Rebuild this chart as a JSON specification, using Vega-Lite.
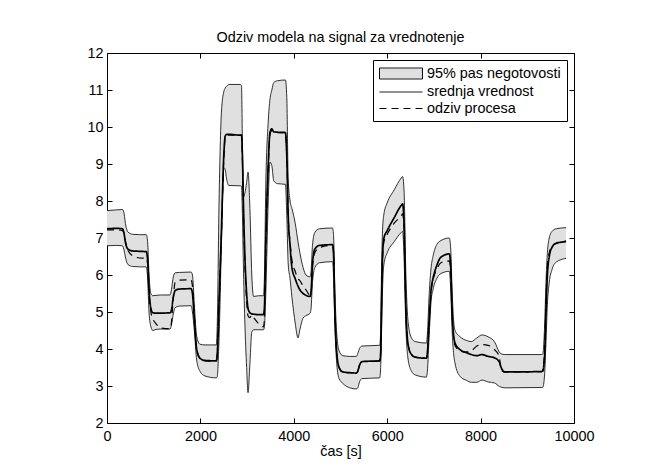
{
  "$schema": "https://vega.github.io/schema/vega-lite/v6.json",
  "width": 467,
  "height": 370,
  "autosize": {"type": "none"},
  "padding": {"left": 107, "top": 53, "right": 80, "bottom": 52},
  "background": "white",
  "config": {
    "font": "Liberation Sans",
    "view": {"stroke": null},
    "axis": {"grid": false, "domainColor": "black", "tickColor": "black", "labelColor": "black", "titleColor": "black", "labelFont": "Liberation Sans", "titleFont": "Liberation Sans", "labelFontSize": 14.4, "titleFontSize": 14.4, "titleFontWeight": "normal", "domainWidth": 1, "tickWidth": 1}
  },
  "title": {"text": "Odziv modela na signal za vrednotenje", "font": "Liberation Sans", "fontSize": 14.4, "fontWeight": "normal", "color": "black", "offset": 0},
  "data": {"values": [
    {"t": 0, "lo": 6.79, "hi": 7.74, "m": 7.25, "p": 7.22},
    {"t": 200, "lo": 6.80, "hi": 7.76, "m": 7.26, "p": 7.22},
    {"t": 330, "lo": 6.79, "hi": 7.77, "m": 7.25, "p": 7.20},
    {"t": 360, "lo": 6.70, "hi": 7.70, "m": 7.15, "p": 7.15},
    {"t": 400, "lo": 6.45, "hi": 7.35, "m": 6.85, "p": 6.88},
    {"t": 450, "lo": 6.28, "hi": 7.16, "m": 6.70, "p": 6.66},
    {"t": 550, "lo": 6.23, "hi": 7.10, "m": 6.65, "p": 6.52},
    {"t": 700, "lo": 6.22, "hi": 7.09, "m": 6.64, "p": 6.46},
    {"t": 840, "lo": 6.22, "hi": 7.09, "m": 6.63, "p": 6.45},
    {"t": 870, "lo": 5.90, "hi": 6.90, "m": 6.40, "p": 6.30},
    {"t": 900, "lo": 5.00, "hi": 6.00, "m": 5.60, "p": 5.50},
    {"t": 940, "lo": 4.60, "hi": 5.50, "m": 5.10, "p": 5.00},
    {"t": 980, "lo": 4.50, "hi": 5.44, "m": 4.98, "p": 4.82},
    {"t": 1050, "lo": 4.53, "hi": 5.45, "m": 4.97, "p": 4.68},
    {"t": 1150, "lo": 4.54, "hi": 5.46, "m": 4.97, "p": 4.57},
    {"t": 1350, "lo": 4.54, "hi": 5.46, "m": 4.98, "p": 4.55},
    {"t": 1380, "lo": 4.65, "hi": 5.60, "m": 5.05, "p": 4.72},
    {"t": 1420, "lo": 4.95, "hi": 5.95, "m": 5.40, "p": 5.40},
    {"t": 1460, "lo": 5.12, "hi": 6.06, "m": 5.58, "p": 5.80},
    {"t": 1550, "lo": 5.16, "hi": 6.07, "m": 5.62, "p": 5.86},
    {"t": 1800, "lo": 5.17, "hi": 6.08, "m": 5.63, "p": 5.87},
    {"t": 1830, "lo": 5.00, "hi": 6.00, "m": 5.50, "p": 5.70},
    {"t": 1870, "lo": 4.50, "hi": 5.20, "m": 4.80, "p": 4.90},
    {"t": 1920, "lo": 3.70, "hi": 4.35, "m": 4.00, "p": 4.00},
    {"t": 1990, "lo": 3.40, "hi": 4.13, "m": 3.75, "p": 3.75},
    {"t": 2100, "lo": 3.27, "hi": 4.11, "m": 3.69, "p": 3.68},
    {"t": 2340, "lo": 3.22, "hi": 4.11, "m": 3.68, "p": 3.67},
    {"t": 2360, "lo": 3.25, "hi": 4.60, "m": 3.85, "p": 3.85},
    {"t": 2400, "lo": 4.30, "hi": 8.00, "m": 5.30, "p": 5.25},
    {"t": 2450, "lo": 6.80, "hi": 10.40, "m": 7.20, "p": 7.10},
    {"t": 2500, "lo": 8.90, "hi": 10.95, "m": 9.20, "p": 9.10},
    {"t": 2530, "lo": 8.85, "hi": 11.05, "m": 9.75, "p": 9.70},
    {"t": 2560, "lo": 8.60, "hi": 11.10, "m": 9.80, "p": 9.78},
    {"t": 2610, "lo": 8.42, "hi": 11.15, "m": 9.80, "p": 9.78},
    {"t": 2850, "lo": 8.41, "hi": 11.15, "m": 9.78, "p": 9.78},
    {"t": 2880, "lo": 8.40, "hi": 11.12, "m": 9.78, "p": 9.78},
    {"t": 2900, "lo": 7.60, "hi": 9.50, "m": 9.20, "p": 9.10},
    {"t": 2920, "lo": 6.30, "hi": 8.10, "m": 8.00, "p": 7.80},
    {"t": 2950, "lo": 4.80, "hi": 8.20, "m": 6.60, "p": 6.40},
    {"t": 2990, "lo": 3.50, "hi": 8.50, "m": 5.50, "p": 5.30},
    {"t": 3020, "lo": 2.82, "hi": 8.78, "m": 5.10, "p": 4.90},
    {"t": 3060, "lo": 3.60, "hi": 7.80, "m": 4.98, "p": 4.85},
    {"t": 3100, "lo": 4.45, "hi": 6.00, "m": 4.95, "p": 4.92},
    {"t": 3140, "lo": 4.52, "hi": 5.42, "m": 4.94, "p": 4.85},
    {"t": 3250, "lo": 4.52, "hi": 5.44, "m": 4.93, "p": 4.68},
    {"t": 3350, "lo": 4.52, "hi": 5.44, "m": 4.93, "p": 4.60},
    {"t": 3370, "lo": 4.60, "hi": 5.90, "m": 5.10, "p": 4.80},
    {"t": 3400, "lo": 5.50, "hi": 8.40, "m": 6.90, "p": 6.60},
    {"t": 3450, "lo": 7.90, "hi": 10.10, "m": 8.90, "p": 8.80},
    {"t": 3490, "lo": 9.05, "hi": 10.75, "m": 9.85, "p": 9.80},
    {"t": 3530, "lo": 8.95, "hi": 11.00, "m": 9.95, "p": 9.90},
    {"t": 3570, "lo": 8.55, "hi": 11.20, "m": 9.87, "p": 9.90},
    {"t": 3650, "lo": 8.47, "hi": 11.25, "m": 9.86, "p": 9.85},
    {"t": 3820, "lo": 8.45, "hi": 11.27, "m": 9.85, "p": 9.85},
    {"t": 3850, "lo": 7.60, "hi": 10.80, "m": 9.20, "p": 9.20},
    {"t": 3880, "lo": 6.30, "hi": 8.60, "m": 7.60, "p": 7.60},
    {"t": 3920, "lo": 5.90, "hi": 8.00, "m": 6.80, "p": 6.90},
    {"t": 3960, "lo": 5.40, "hi": 7.80, "m": 6.20, "p": 6.40},
    {"t": 4030, "lo": 4.70, "hi": 7.40, "m": 5.90, "p": 6.10},
    {"t": 4090, "lo": 4.30, "hi": 6.90, "m": 5.70, "p": 5.90},
    {"t": 4130, "lo": 4.52, "hi": 6.60, "m": 5.60, "p": 5.85},
    {"t": 4200, "lo": 4.84, "hi": 6.20, "m": 5.50, "p": 5.70},
    {"t": 4260, "lo": 4.90, "hi": 6.00, "m": 5.45, "p": 5.60},
    {"t": 4350, "lo": 4.97, "hi": 5.95, "m": 5.42, "p": 5.45},
    {"t": 4370, "lo": 5.10, "hi": 6.10, "m": 5.55, "p": 5.50},
    {"t": 4400, "lo": 5.80, "hi": 6.80, "m": 6.30, "p": 6.20},
    {"t": 4450, "lo": 6.20, "hi": 7.15, "m": 6.70, "p": 6.60},
    {"t": 4550, "lo": 6.33, "hi": 7.25, "m": 6.80, "p": 6.74},
    {"t": 4830, "lo": 6.36, "hi": 7.27, "m": 6.82, "p": 6.80},
    {"t": 4850, "lo": 6.00, "hi": 7.10, "m": 6.60, "p": 6.60},
    {"t": 4880, "lo": 4.60, "hi": 5.60, "m": 5.00, "p": 5.00},
    {"t": 4920, "lo": 3.60, "hi": 4.40, "m": 3.90, "p": 3.90},
    {"t": 4970, "lo": 3.20, "hi": 3.95, "m": 3.50, "p": 3.50},
    {"t": 5050, "lo": 3.07, "hi": 3.82, "m": 3.38, "p": 3.37},
    {"t": 5200, "lo": 2.95, "hi": 3.80, "m": 3.36, "p": 3.36},
    {"t": 5340, "lo": 2.92, "hi": 3.80, "m": 3.35, "p": 3.35},
    {"t": 5370, "lo": 2.95, "hi": 3.88, "m": 3.40, "p": 3.40},
    {"t": 5410, "lo": 3.12, "hi": 4.02, "m": 3.57, "p": 3.57},
    {"t": 5460, "lo": 3.20, "hi": 4.08, "m": 3.66, "p": 3.66},
    {"t": 5840, "lo": 3.22, "hi": 4.10, "m": 3.68, "p": 3.68},
    {"t": 5860, "lo": 3.50, "hi": 4.50, "m": 3.90, "p": 3.90},
    {"t": 5880, "lo": 4.50, "hi": 6.20, "m": 5.30, "p": 5.30},
    {"t": 5900, "lo": 5.60, "hi": 7.20, "m": 6.50, "p": 6.40},
    {"t": 5930, "lo": 6.30, "hi": 7.65, "m": 7.00, "p": 6.90},
    {"t": 6000, "lo": 6.60, "hi": 7.95, "m": 7.20, "p": 7.10},
    {"t": 6150, "lo": 6.90, "hi": 8.30, "m": 7.55, "p": 7.40},
    {"t": 6300, "lo": 7.15, "hi": 8.62, "m": 7.88, "p": 7.60},
    {"t": 6330, "lo": 7.18, "hi": 8.66, "m": 7.92, "p": 7.65},
    {"t": 6360, "lo": 6.50, "hi": 8.30, "m": 7.40, "p": 7.30},
    {"t": 6400, "lo": 4.60, "hi": 6.00, "m": 5.10, "p": 5.10},
    {"t": 6450, "lo": 3.70, "hi": 4.70, "m": 4.10, "p": 4.10},
    {"t": 6520, "lo": 3.40, "hi": 4.30, "m": 3.85, "p": 3.85},
    {"t": 6600, "lo": 3.30, "hi": 4.20, "m": 3.78, "p": 3.78},
    {"t": 6840, "lo": 3.24, "hi": 4.16, "m": 3.75, "p": 3.75},
    {"t": 6860, "lo": 3.40, "hi": 4.40, "m": 3.90, "p": 3.90},
    {"t": 6900, "lo": 4.40, "hi": 5.50, "m": 4.80, "p": 4.80},
    {"t": 6940, "lo": 5.30, "hi": 6.20, "m": 5.60, "p": 5.55},
    {"t": 6980, "lo": 5.60, "hi": 6.50, "m": 5.90, "p": 5.85},
    {"t": 7060, "lo": 5.90, "hi": 6.82, "m": 6.25, "p": 6.15},
    {"t": 7150, "lo": 6.04, "hi": 6.93, "m": 6.48, "p": 6.33},
    {"t": 7330, "lo": 6.10, "hi": 7.00, "m": 6.57, "p": 6.38},
    {"t": 7360, "lo": 5.60, "hi": 6.70, "m": 6.20, "p": 6.10},
    {"t": 7390, "lo": 4.50, "hi": 5.60, "m": 5.00, "p": 5.00},
    {"t": 7420, "lo": 3.90, "hi": 4.80, "m": 4.40, "p": 4.35},
    {"t": 7450, "lo": 3.63, "hi": 4.51, "m": 4.17, "p": 4.10},
    {"t": 7560, "lo": 3.26, "hi": 4.33, "m": 3.98, "p": 3.95},
    {"t": 7700, "lo": 3.15, "hi": 4.23, "m": 3.90, "p": 3.92},
    {"t": 7800, "lo": 3.10, "hi": 4.20, "m": 3.85, "p": 3.95},
    {"t": 7920, "lo": 3.10, "hi": 4.30, "m": 3.82, "p": 4.08},
    {"t": 8030, "lo": 3.16, "hi": 4.38, "m": 3.85, "p": 4.12},
    {"t": 8160, "lo": 3.11, "hi": 4.33, "m": 3.80, "p": 4.10},
    {"t": 8300, "lo": 3.08, "hi": 4.19, "m": 3.76, "p": 3.98},
    {"t": 8400, "lo": 2.99, "hi": 3.92, "m": 3.65, "p": 3.80},
    {"t": 8440, "lo": 2.97, "hi": 3.87, "m": 3.50, "p": 3.42},
    {"t": 8520, "lo": 2.95, "hi": 3.85, "m": 3.38, "p": 3.38},
    {"t": 9300, "lo": 2.96, "hi": 3.85, "m": 3.39, "p": 3.39},
    {"t": 9330, "lo": 2.96, "hi": 3.86, "m": 3.40, "p": 3.42},
    {"t": 9370, "lo": 3.30, "hi": 4.60, "m": 3.80, "p": 4.00},
    {"t": 9400, "lo": 4.20, "hi": 5.80, "m": 5.00, "p": 5.30},
    {"t": 9430, "lo": 5.20, "hi": 6.60, "m": 6.00, "p": 6.20},
    {"t": 9470, "lo": 5.80, "hi": 7.00, "m": 6.50, "p": 6.60},
    {"t": 9530, "lo": 6.15, "hi": 7.18, "m": 6.75, "p": 6.78},
    {"t": 9620, "lo": 6.35, "hi": 7.25, "m": 6.86, "p": 6.85},
    {"t": 9830, "lo": 6.45, "hi": 7.28, "m": 6.90, "p": 6.92}
  ]},
  "layer": [
    {
      "mark": {"type": "area", "interpolate": "monotone", "fill": "#e0e0e0", "stroke": null},
      "encoding": {
        "x": {"field": "t", "type": "quantitative", "scale": {"domain": [0, 10000], "nice": false}, "axis": {"orient": "bottom", "values": [0, 2000, 4000, 6000, 8000, 10000], "format": "d", "title": "čas [s]", "tickSize": -5, "labelPadding": 11, "titlePadding": 2, "labelFlush": false}},
        "y": {"field": "lo", "type": "quantitative", "scale": {"domain": [2, 12], "nice": false, "zero": false}, "axis": {"orient": "left", "values": [2, 3, 4, 5, 6, 7, 8, 9, 10, 11, 12], "title": null, "tickSize": -5, "labelPadding": 9}},
        "y2": {"field": "hi"}
      }
    },
    {
      "mark": {"type": "line", "interpolate": "monotone", "color": "#1a1a1a", "strokeWidth": 0.9},
      "encoding": {
        "x": {"field": "t", "type": "quantitative", "axis": {"orient": "top", "values": [0, 2000, 4000, 6000, 8000, 10000], "labels": false, "title": null, "tickSize": -5}},
        "y": {"field": "lo", "type": "quantitative", "axis": {"orient": "right", "values": [2, 3, 4, 5, 6, 7, 8, 9, 10, 11, 12], "labels": false, "title": null, "tickSize": -5}}
      }
    },
    {
      "mark": {"type": "line", "interpolate": "monotone", "color": "#1a1a1a", "strokeWidth": 0.9},
      "encoding": {
        "x": {"field": "t", "type": "quantitative", "axis": null},
        "y": {"field": "hi", "type": "quantitative", "axis": null}
      }
    },
    {
      "mark": {"type": "line", "interpolate": "monotone", "color": "black", "strokeWidth": 1.7},
      "encoding": {
        "x": {"field": "t", "type": "quantitative", "axis": null},
        "y": {"field": "m", "type": "quantitative", "axis": null},
        "strokeDash": {
          "datum": "srednja vrednost",
          "type": "nominal",
          "scale": {"domain": ["95% pas negotovosti", "srednja vrednost", "odziv procesa"], "range": [[1, 0], [1, 0], [7, 5]]},
          "legend": {
            "title": null,
            "orient": "top-right",
            "offset": 7,
            "padding": 6,
            "strokeColor": "black",
            "fillColor": "white",
            "labelFont": "Liberation Sans",
            "labelFontSize": 14.4,
            "labelColor": "black",
            "labelLimit": 400,
            "symbolSize": 196,
            "symbolStrokeColor": "black",
            "symbolStrokeWidth": 1,
            "labelOffset": 33,
            "rowPadding": 1.5,
            "encode": {
              "symbols": {
                "update": {
                  "shape": {"signal": "datum.value === '95% pas negotovosti' ? 'M-1,-0.79H5.14V0.79H-1Z' : 'M-1,0H5.14'"},
                  "fill": {"signal": "datum.value === '95% pas negotovosti' ? '#e0e0e0' : 'transparent'"},
                  "stroke": {"value": "black"}
                }
              }
            }
          }
        }
      }
    },
    {
      "mark": {"type": "line", "interpolate": "monotone", "color": "black", "strokeWidth": 1.2},
      "encoding": {
        "x": {"field": "t", "type": "quantitative", "axis": null},
        "y": {"field": "p", "type": "quantitative", "axis": null},
        "strokeDash": {"datum": "odziv procesa", "type": "nominal"}
      }
    }
  ],
  "resolve": {"axis": {"x": "independent", "y": "independent"}}
}
